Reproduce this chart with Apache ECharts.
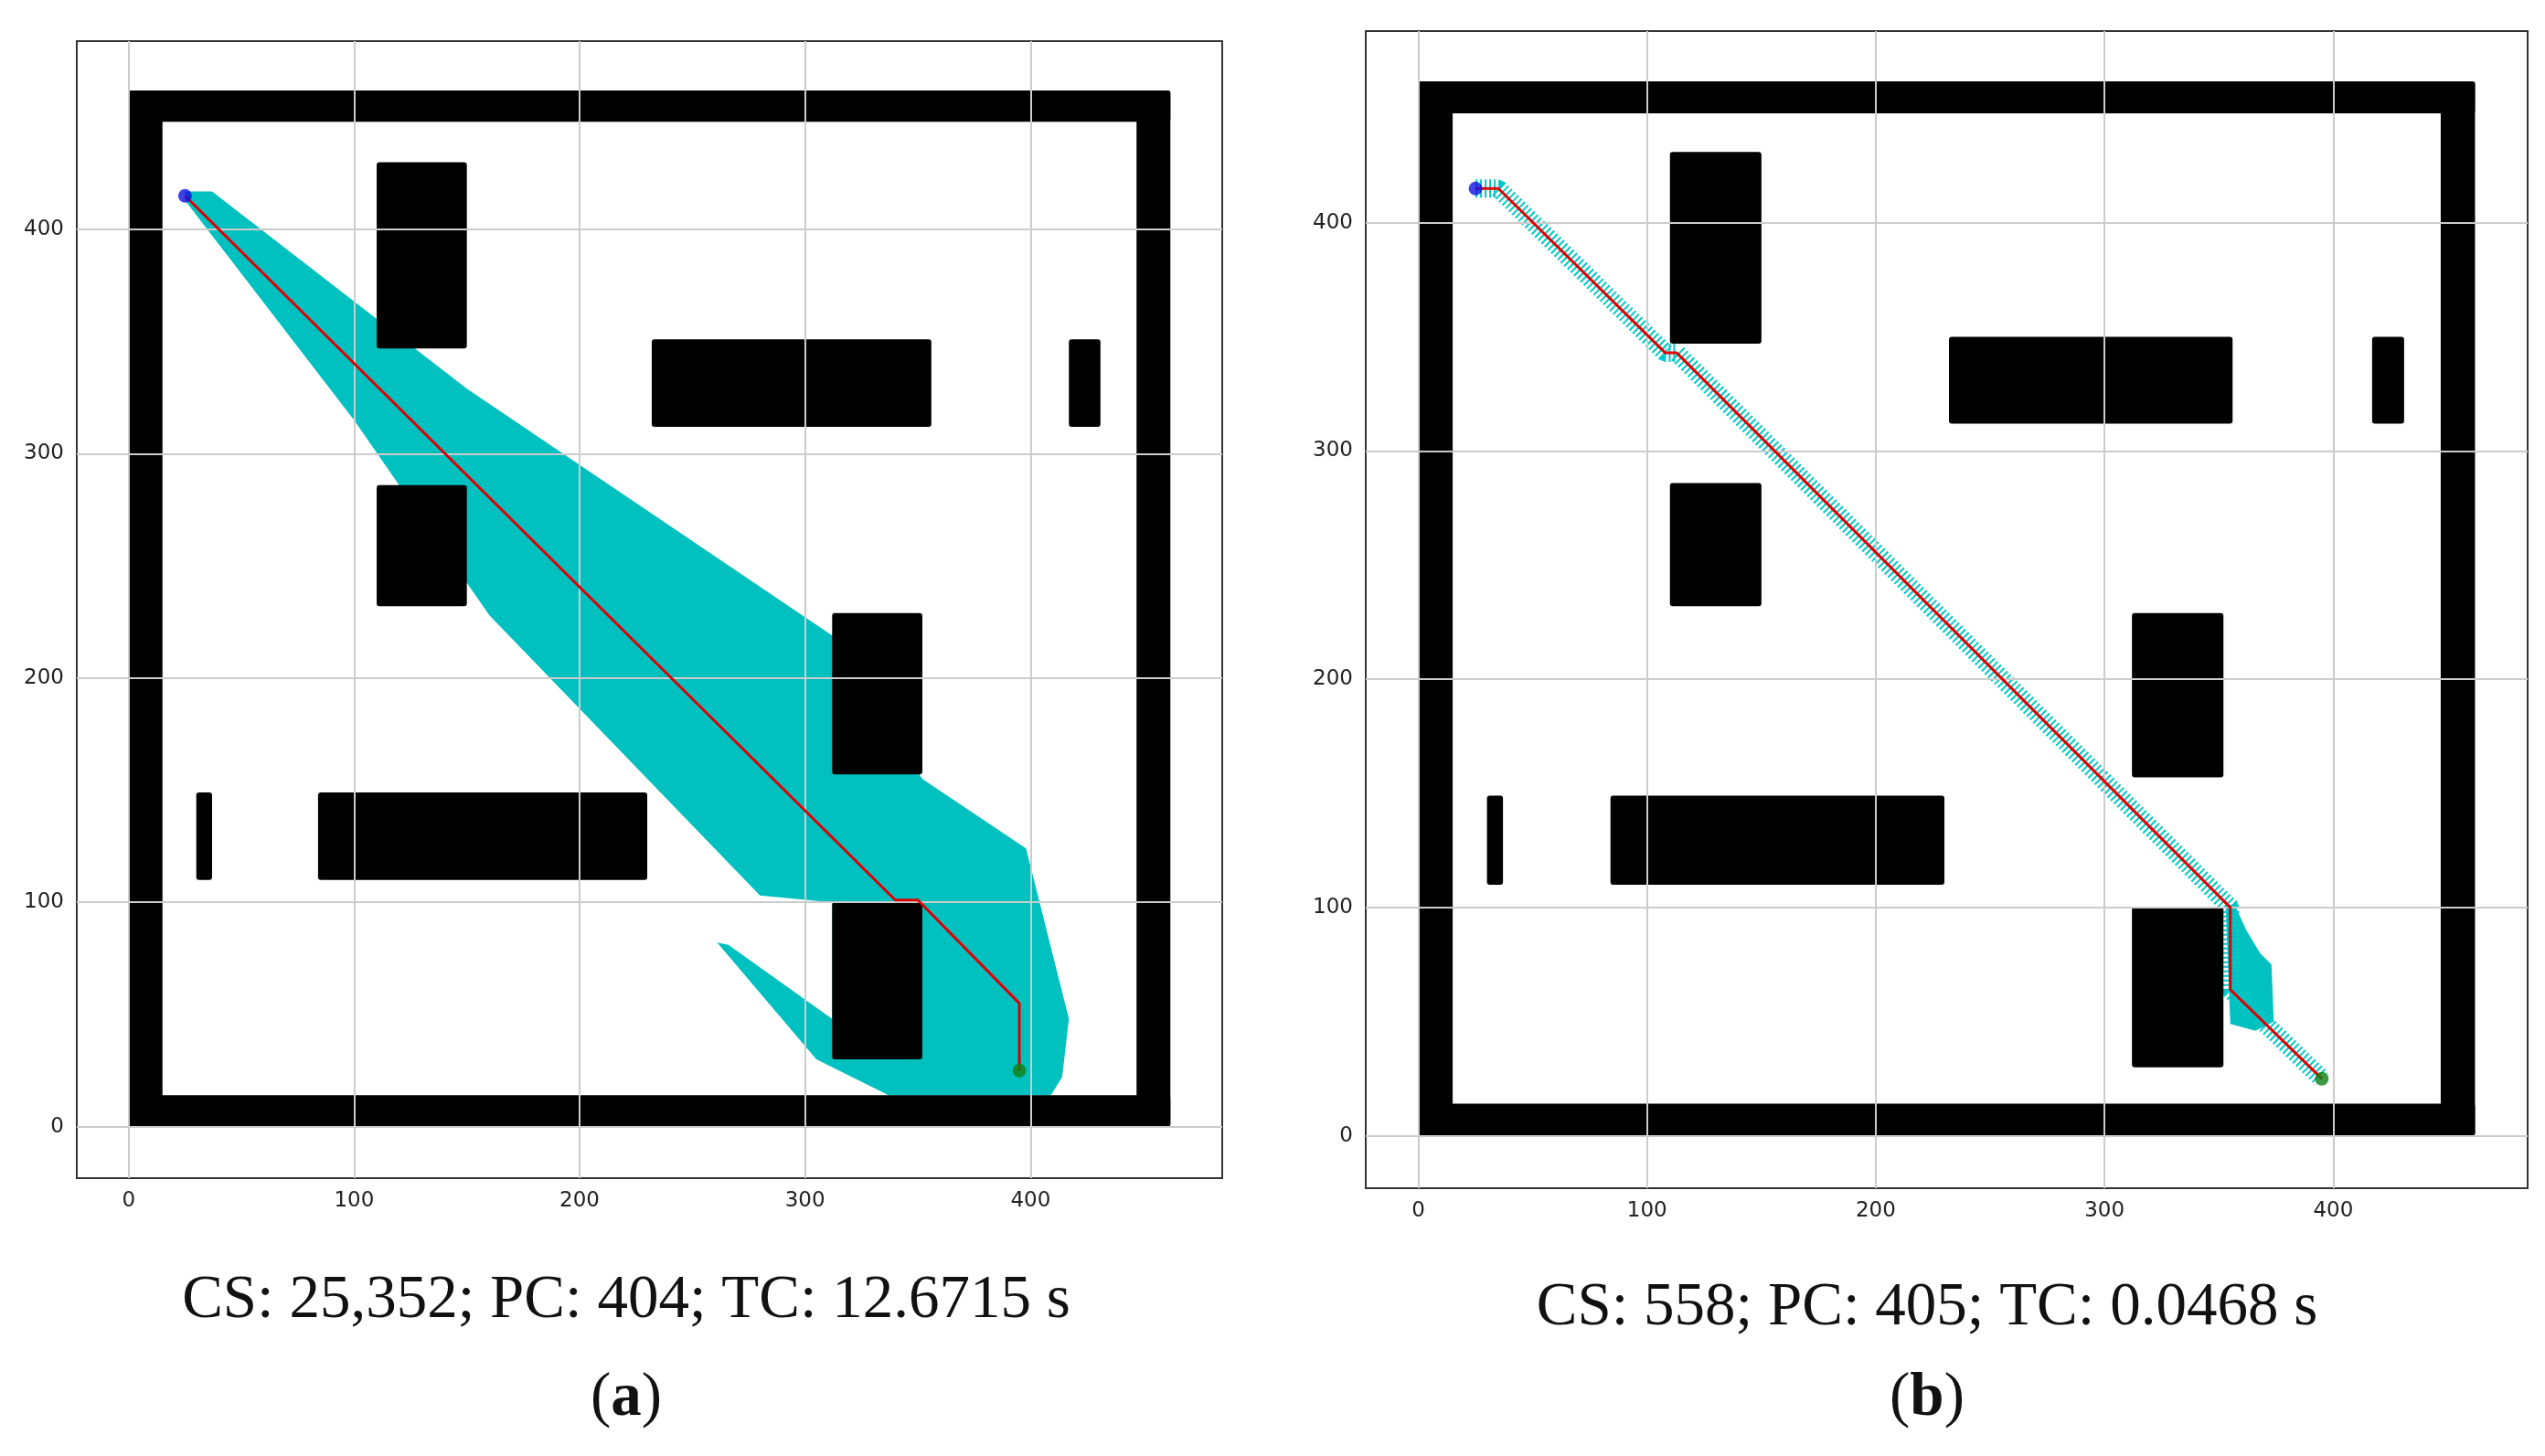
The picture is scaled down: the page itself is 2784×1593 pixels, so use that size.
<!DOCTYPE html>
<html><head><meta charset="utf-8">
<script src="https://cdn.jsdelivr.net/npm/echarts@6/dist/echarts.min.js"></script>
<style>html,body{margin:0;padding:0;background:#fff}#c{width:2784px;height:1593px}</style>
</head><body><div id="c"></div>
<script>
const tickValues = [0, 100, 200, 300, 400];
const walls = [[0,0,462,14],[0,448,462,462],[0,0,15,462],[447,0,462,462]];
const obstaclesA = [[110,347,150,430],[232,312,356,351],[417,312,431,351],[110,232,150,286],[312,157,352,229],[30,110,37,149],[84,110,230,149],[312,30,352,100]];
const obstaclesB = [[110,347,150,431],[232,312,356,350],[417,312,431,350],[110,232,150,286],[312,157,352,229],[30,110,37,149],[84,110,230,149],[312,30,352,100]];
const exploredA = [[25,417],[37,417],[150,329],[312,219],[352,155],[398,124],[417,48],[414,22],[409,14],[337,14],[305,30],[261,82],[266,81],[312,48],[312,100],[280,103],[160,228],[100,315],[25,413]];
const exploredBBand = [[25,415],[35,415],[108,343],[113,343],[355,100],[355,64],[395,25]];
const exploredBPatch = [[353,101],[357,101],[362,90],[368,80],[373,75],[374,50],[366,46],[355,49]];
const pathA = [[25,415],[340,101],[350,101],[395,55],[395,25]];
const pathB = [[25,415],[35,415],[108,343],[113,343],[355,100],[355,64],[395,25]];
const startPt = [25,415], goalPt = [395,25];
const captions = ['CS: 25,352; PC: 404; TC: 12.6715 s', 'CS: 558; PC: 405; TC: 0.0468 s'];

const chart = echarts.init(document.getElementById('c'));
function rectSeries(rects, idx, z){
  return {type:'custom', xAxisIndex:idx, yAxisIndex:idx, z:z, silent:true,
    data: rects,
    renderItem:(p,api)=>{
      const a=api.coord([api.value(0),api.value(3)]), b=api.coord([api.value(2),api.value(1)]);
      return {type:'rect', shape:{x:a[0],y:a[1],width:b[0]-a[0],height:b[1]-a[1],r:3}, style:{fill:'#000'}};
    }};
}
function polySeries(pts, idx, z){
  return {type:'custom', xAxisIndex:idx, yAxisIndex:idx, z:z, silent:true,
    data:[0],
    renderItem:(p,api)=>({type:'polygon', shape:{points:pts.map(q=>api.coord(q))}, style:{fill:'#00c0c0'}})};
}
function gridLines(idx){
  return {type:'line', xAxisIndex:idx, yAxisIndex:idx, data:[], z:1,
    markLine:{silent:true, symbol:'none', label:{show:false},
      lineStyle:{color:'#cccccc', width:2, type:'solid'},
      data: tickValues.map(v=>({xAxis:v})).concat(tickValues.map(v=>({yAxis:v})))}};
}
function axes(idx){
  const common = {min:-23, max:485, splitLine:{show:false}, axisLine:{show:false},
    axisTick:{show:true, length:8, lineStyle:{color:'#333', width:2}, customValues:tickValues},
    axisLabel:{customValues:tickValues, fontSize:23, color:'#222', fontFamily:'DejaVu Sans', margin:14}};
  return [Object.assign({type:'value', gridIndex:idx}, common), Object.assign({type:'value', gridIndex:idx}, common, {min:-23, max:484})];
}
const ax0 = axes(0), ax1 = axes(1);
const markers = (idx)=>[
  {type:'scatter', xAxisIndex:idx, yAxisIndex:idx, z:10, symbolSize:15, data:[startPt], itemStyle:{color:'#1010e0'}},
  {type:'scatter', xAxisIndex:idx, yAxisIndex:idx, z:10, symbolSize:15, data:[goalPt], itemStyle:{color:'#108010'}}
];
const capStyle = {fontFamily:'Liberation Serif', fontSize:67, fontWeight:'normal', color:'#111'};
const labStyle = {fontFamily:'Liberation Serif', fontSize:67, fontWeight:'normal', color:'#111', rich:{a:{fontFamily:'Liberation Serif', fontSize:67, fontWeight:'bold', color:'#111'}}};
chart.setOption({
  animation:false,
  grid:[
    {left:84, top:45, width:1253, height:1244, show:true, borderColor:'#333', borderWidth:2, backgroundColor:'#fff'},
    {left:1494, top:34, width:1271, height:1266, show:true, borderColor:'#333', borderWidth:2, backgroundColor:'#fff'}
  ],
  xAxis:[ax0[0], ax1[0]],
  yAxis:[ax0[1], ax1[1]],
  title:[
    {text:captions[0], left:680, top:1385, textAlign:'center', textStyle:capStyle},
    {text:'({a|a})', left:680, top:1492, textAlign:'center', textStyle:labStyle},
    {text:captions[1], left:2103, top:1393, textAlign:'center', textStyle:capStyle},
    {text:'({a|b})', left:2103, top:1492, textAlign:'center', textStyle:labStyle}
  ],
  series:[
    gridLines(0), gridLines(1),
    polySeries(exploredA, 0, 2),
    polySeries(exploredBPatch, 1, 2),
    {type:'line', xAxisIndex:1, yAxisIndex:1, z:2, data:exploredBBand, symbol:'none', silent:true,
      lineStyle:{color:'#00c8c8', width:20, type:[2,3]}},
    rectSeries(walls, 0, 3), rectSeries(obstaclesA, 0, 3),
    rectSeries(walls, 1, 3), rectSeries(obstaclesB, 1, 3),
    {type:'line', xAxisIndex:0, yAxisIndex:0, z:5, data:pathA, symbol:'none', lineStyle:{color:'#e00000', width:3}},
    {type:'line', xAxisIndex:1, yAxisIndex:1, z:5, data:pathB, symbol:'none', lineStyle:{color:'#e00000', width:3}}
  ].concat(markers(0), markers(1))
});
</script></body></html>
